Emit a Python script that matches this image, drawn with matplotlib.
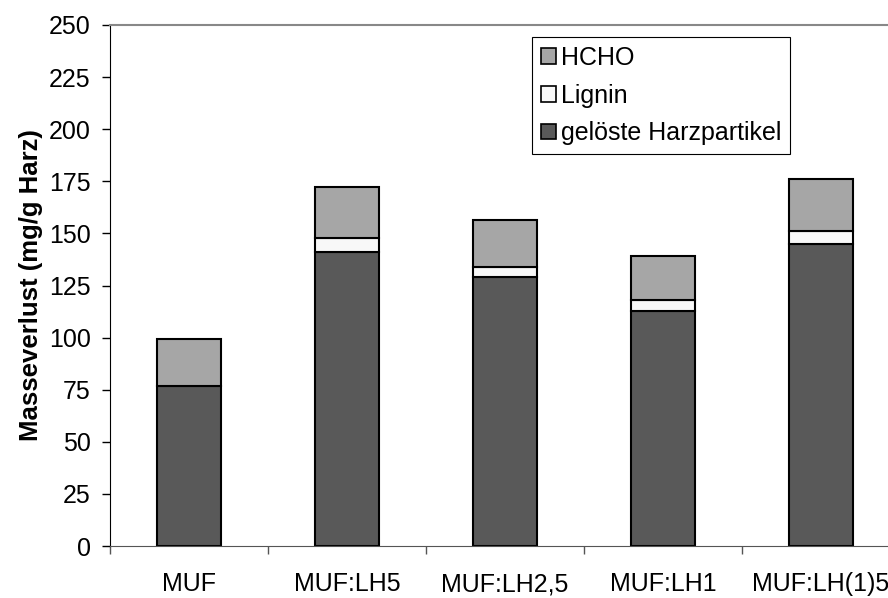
import matplotlib
matplotlib.use("Agg")
import matplotlib.pyplot as plt
from matplotlib.patches import Patch
import numpy as np

plt.rcParams['font.family'] = ['Liberation Sans', 'DejaVu Sans']

categories = ['MUF', 'MUF:LH5', 'MUF:LH2,5', 'MUF:LH1', 'MUF:LH(1)5']
harz = [77, 141, 129, 113, 145]
lignin = [0, 7, 5, 5, 6]
hcho = [22.5, 24.5, 22.5, 21, 25]

c_harz, c_lignin, c_hcho = '#595959', '#f8f8f8', '#a6a6a6'

fig = plt.figure(figsize=(8.88, 5.98), dpi=100)
ax = fig.add_axes([110 / 888, 52 / 598, 790 / 888, 521 / 598])

x = np.arange(len(categories))
w = 0.405
ax.bar(x, harz, w, color=c_harz, edgecolor='black', linewidth=1.5)
b2 = ax.bar(x, lignin, w, bottom=harz, color=c_lignin, edgecolor='black', linewidth=1.5)
bottom2 = np.array(harz) + np.array(lignin)
ax.bar(x, hcho, w, bottom=bottom2, color=c_hcho, edgecolor='black', linewidth=1.5)
# the MUF bar has no lignin segment
b2[0].set_visible(False)

ax.set_xlim(-0.5, 4.5)
ax.set_ylim(0, 250)
ax.set_yticks(range(0, 251, 25))
ax.tick_params(axis='y', labelsize=18, length=6, width=1, pad=8, direction='out')

ax.set_xticks(np.arange(-0.5, 4.6, 1))
ax.set_xticklabels([])
ax.tick_params(axis='x', which='major', length=6, width=1, direction='out', colors='#555555')
ax.set_xticks(x, minor=True)
ax.set_xticklabels(categories, minor=True)
ax.tick_params(axis='x', which='minor', length=0, labelsize=18, pad=19)

ax.spines['left'].set_color('black')
ax.spines['bottom'].set_color('#555555')
ax.spines['top'].set_color('#888888')
ax.spines['right'].set_visible(False)
ax.spines['top'].set_linewidth(1.5)

ax.set_ylabel('Masseverlust (mg/g Harz)', fontsize=18.5, fontweight='bold', labelpad=4)

handles = [Patch(facecolor=c_hcho, edgecolor='black', linewidth=1.2, label='HCHO'),
           Patch(facecolor=c_lignin, edgecolor='black', linewidth=1.2, label='Lignin'),
           Patch(facecolor=c_harz, edgecolor='black', linewidth=1.2, label='gelöste Harzpartikel')]
leg = ax.legend(handles=handles, loc='upper left',
                bbox_to_anchor=(532 / 888, 1 - 37 / 598), bbox_transform=fig.transFigure,
                fontsize=18, frameon=True, fancybox=False, framealpha=1,
                edgecolor='black', handlelength=0.6, handleheight=0.6,
                handletextpad=0.2, labelspacing=0.55, borderpad=0.35, borderaxespad=0)
leg.get_frame().set_linewidth(0.8)

fig.savefig('out.png', dpi=100)
